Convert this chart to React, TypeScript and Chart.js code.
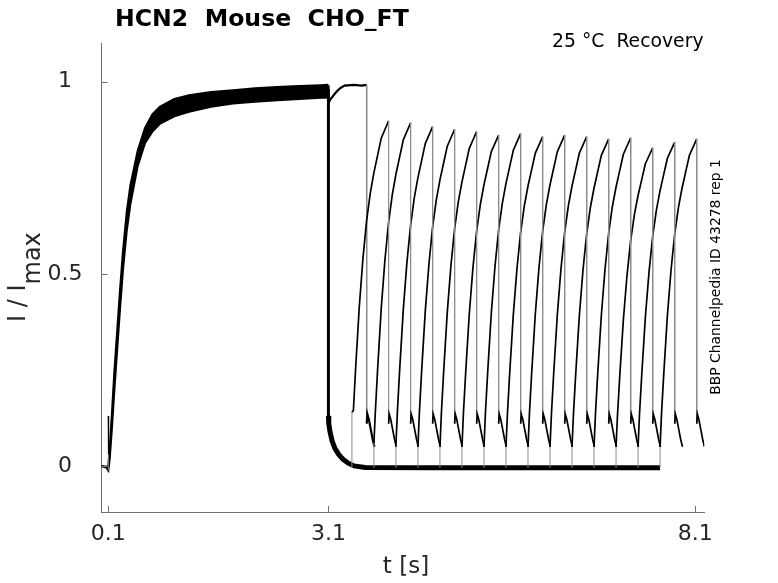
import { useEffect, useRef } from 'react';
import { Chart, registerables, type ChartConfiguration, type Plugin } from 'chart.js';

Chart.register(...registerables);

const FONT = '"DejaVu Sans", "Liberation Sans", sans-serif';
const AXIS = '#6f6f6f';
const INK = '#262626';

// activation step (0.1 s → 3.1 s): upper / lower edge of the overlapping sweeps
const actT = [0.0, 0.07, 0.1, 0.12, 0.15, 0.18, 0.22, 0.26, 0.3, 0.35, 0.4, 0.5, 0.6, 0.7, 0.8, 1.0, 1.2, 1.5, 1.8, 2.1, 2.4, 2.7, 3.0, 3.1];
const actUpper = [0.0, -0.002, 0.0, 0.05, 0.14, 0.24, 0.35, 0.46, 0.56, 0.66, 0.73, 0.82, 0.88, 0.915, 0.935, 0.955, 0.965, 0.973, 0.978, 0.983, 0.986, 0.989, 0.991, 0.992];
const actLower = [0.0, -0.004, -0.012, 0.02, 0.1, 0.19, 0.3, 0.41, 0.51, 0.61, 0.68, 0.78, 0.84, 0.87, 0.89, 0.91, 0.922, 0.935, 0.943, 0.948, 0.952, 0.955, 0.958, 0.958];

// capacitive spike at the start of the step
const spikeT = [0.1, 0.1, 0.104];
const spikeI = [-0.012, 0.13, 0.03];

// deactivation tail after 3.1 s and the common baseline
const deactT = [3.1, 3.1, 3.105, 3.12, 3.15, 3.19, 3.24, 3.3, 3.37, 3.45, 3.6, 4.5, 5.5, 6.5, 7.62];
const deactI = [0.98, 0.13, 0.11, 0.09, 0.065, 0.045, 0.03, 0.017, 0.007, 0.0, -0.004, -0.005, -0.005, -0.005, -0.005];

// sweep with no recovery gap
const holdT = [3.1, 3.102, 3.13, 3.2, 3.26, 3.32, 3.45, 3.55, 3.622];
const holdI = [0.99, 0.945, 0.955, 0.972, 0.983, 0.99, 0.992, 0.99, 0.992];

// recovery test pulses
const p2Start = [3.42, 3.72, 4.02, 4.32, 4.62, 4.92, 5.22, 5.52, 5.82, 6.12, 6.42, 6.72, 7.02, 7.32, 7.62];
const p2StartI = [0.14, 0.06, 0.055, 0.05, 0.05, 0.05, 0.05, 0.05, 0.05, 0.05, 0.05, 0.05, 0.05, 0.05, 0.05];
const p2Peak = [0.898, 0.893, 0.883, 0.876, 0.87, 0.861, 0.865, 0.857, 0.861, 0.857, 0.851, 0.854, 0.828, 0.843, 0.851];
const riseDt = [0.02, 0.05, 0.1, 0.15, 0.2, 0.25, 0.3, 0.35, 0.4, 0.45, 0.5];
const riseFrac = [0.16, 0.28, 0.46, 0.6, 0.71, 0.79, 0.85, 0.9, 0.95, 0.975, 1.0];
const tailDt = [0, 0.008, 0.03, 0.055, 0.08, 0.105];
const tailI = [0.11, 0.135, 0.12, 0.095, 0.07, 0.05];
const baseI = -0.005;

const xTicks = [0.1, 3.1, 8.1];
const xTickLabels = ['0.1', '3.1', '8.1'];
const yTicks = [0, 0.5, 1];
const yTickLabels = ['0', '0.5', '1'];

type Pt = { x: number; y: number };

const zip = (t: number[], v: number[]): Pt[] => t.map((x, i) => ({ x, y: v[i] }));

const holdData: Pt[] = [
  ...zip(holdT, holdI),
  ...tailDt.map((dt, i) => ({ x: holdT[holdT.length - 1] + dt, y: tailI[i] })),
];

const sweepData: Pt[][] = p2Start.map((s, k) => {
  const pts: Pt[] = [{ x: s, y: baseI }, { x: s, y: p2StartI[k] }];
  riseDt.forEach((dt, i) => pts.push({ x: s + dt, y: riseFrac[i] * p2Peak[k] }));
  const e = s + riseDt[riseDt.length - 1];
  tailDt.forEach((dt, i) => pts.push({ x: e + dt, y: tailI[i] }));
  return pts;
});

// steep jumps are drawn thin and grey like in the original
const isStep = (c: any) => Math.abs(c.p0.parsed.x - c.p1.parsed.x) < 1e-6;
const stepSegment = {
  borderColor: (c: any) => (isStep(c) ? '#8c8c8c' : undefined),
  borderWidth: (c: any) => (isStep(c) ? 1 : undefined),
};

const labelPlugin: Plugin<'line'> = {
  id: 'labels',
  afterDraw(chart) {
    const { ctx, chartArea: a, scales } = chart;
    ctx.save();
    // inward tick marks
    ctx.strokeStyle = AXIS;
    ctx.lineWidth = 1;
    xTicks.forEach((v) => {
      const px = Math.round(scales.x.getPixelForValue(v)) + 0.5;
      ctx.beginPath();
      ctx.moveTo(px, a.bottom);
      ctx.lineTo(px, a.bottom - 6);
      ctx.stroke();
    });
    yTicks.forEach((v) => {
      const py = Math.round(scales.y.getPixelForValue(v)) + 0.5;
      ctx.beginPath();
      ctx.moveTo(a.left, py);
      ctx.lineTo(a.left + 6, py);
      ctx.stroke();
    });

    ctx.fillStyle = '#000';
    ctx.textBaseline = 'alphabetic';

    ctx.font = `bold 23.6px ${FONT}`;
    ctx.textAlign = 'left';
    ctx.fillText('HCN2  Mouse  CHO_FT', 115, 26);

    ctx.font = `18.8px ${FONT}`;
    ctx.textAlign = 'right';
    ctx.fillText('25 °C  Recovery', 703.5, 47);

    ctx.fillStyle = INK;
    ctx.font = `23px ${FONT}`;
    ctx.textAlign = 'center';
    ctx.fillText('t [s]', 406, 573);

    // y label with subscript
    ctx.save();
    ctx.translate(25, 322);
    ctx.rotate(-Math.PI / 2);
    ctx.font = `24px ${FONT}`;
    ctx.textAlign = 'left';
    ctx.fillText('I / I', 0, 0);
    const w = ctx.measureText('I / I').width;
    ctx.fillText('max', w, 15);
    ctx.restore();

    // side note
    ctx.save();
    ctx.translate(720, 277);
    ctx.rotate(-Math.PI / 2);
    ctx.fillStyle = '#000';
    ctx.font = `13.9px ${FONT}`;
    ctx.textAlign = 'center';
    ctx.fillText('BBP Channelpedia ID 43278 rep 1', 0, 0);
    ctx.restore();

    ctx.restore();
  },
};

function RecoveryChart() {
  const canvasRef = useRef<HTMLCanvasElement | null>(null);
  const chartRef = useRef<Chart<'line'> | null>(null);

  useEffect(() => {
    if (!canvasRef.current) return;
    const line = { pointRadius: 0, tension: 0, borderColor: '#000', fill: false };
    const config: ChartConfiguration<'line'> = {
      type: 'line',
      data: {
        datasets: [
          ...sweepData.map((d, k) => ({
            ...line,
            label: `sweep ${k + 2}`,
            data: d,
            borderWidth: 1.7,
            segment: stepSegment,
          })),
          { ...line, label: 'sweep 1', data: holdData, borderWidth: 2.2, segment: stepSegment },
          {
            ...line,
            label: 'deactivation',
            data: zip(deactT, deactI),
            borderWidth: 5,
            segment: { borderWidth: (c: any) => (isStep(c) ? 3 : undefined) },
          },
          { ...line, label: 'spike', data: zip(spikeT, spikeI), borderWidth: 1.2, segment: stepSegment },
          { ...line, label: 'act lower', data: zip(actT, actLower), borderWidth: 2 },
          {
            ...line,
            label: 'act upper',
            data: zip(actT, actUpper),
            borderWidth: 2,
            fill: '-1',
            backgroundColor: '#000',
          },
        ] as any,
      },
      options: {
        responsive: true,
        maintainAspectRatio: false,
        animation: false,
        events: [],
        layout: { padding: { top: 43.3, right: 73.7, left: 0, bottom: 0 } },
        scales: {
          x: {
            type: 'linear',
            min: 0.007,
            max: 8.223,
            grid: { display: false, drawTicks: false },
            border: { display: true, color: AXIS, width: 1 },
            ticks: {
              autoSkip: false,
              maxRotation: 0,
              padding: 9,
              color: INK,
              font: { family: FONT, size: 22 },
              callback: (v) => xTickLabels[xTicks.indexOf(Number(v))] ?? '',
            },
            afterBuildTicks: (s) => {
              s.ticks = xTicks.map((value) => ({ value }));
            },
            afterFit: (s) => {
              s.height = 71;
            },
          },
          y: {
            type: 'linear',
            min: -0.12,
            max: 1.1,
            grid: { display: false, drawTicks: false },
            border: { display: true, color: AXIS, width: 1 },
            ticks: {
              autoSkip: false,
              padding: 19,
              crossAlign: 'center',
              color: INK,
              font: { family: FONT, size: 22 },
              callback: (v) => yTickLabels[yTicks.indexOf(Number(v))] ?? '',
            },
            afterBuildTicks: (s) => {
              s.ticks = yTicks.map((value) => ({ value }));
            },
            afterFit: (s) => {
              s.width = 101.5;
            },
          },
        },
        plugins: {
          legend: { display: false },
          tooltip: { enabled: false },
        },
      },
      plugins: [labelPlugin],
    };

    chartRef.current = new Chart(canvasRef.current, config);

    return () => {
      chartRef.current?.destroy();
      chartRef.current = null;
    };
  }, []);

  return <canvas ref={canvasRef} />;
}

export default function App() {
  return (
    <div style={{ position: 'fixed', left: 0, top: 0, width: 778, height: 583, background: '#fff' }}>
      <RecoveryChart />
    </div>
  );
}
